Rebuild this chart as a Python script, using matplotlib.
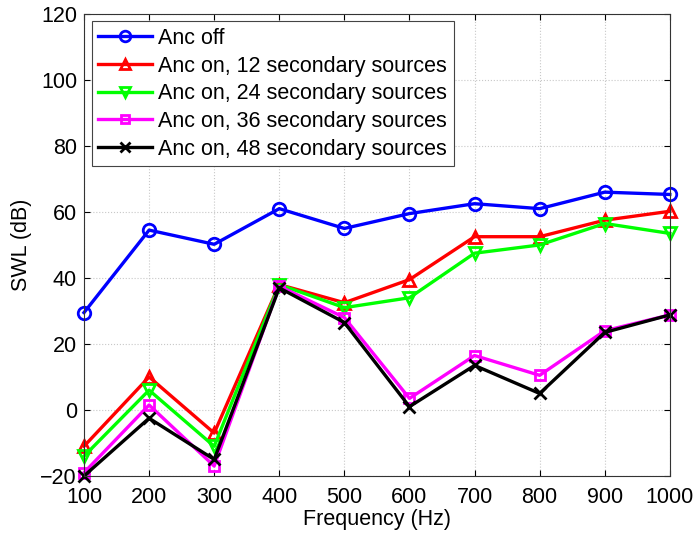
import numpy as np
import matplotlib
matplotlib.use("Agg")
import matplotlib.pyplot as plt

plt.rcParams['font.family'] = ['Liberation Sans', 'DejaVu Sans']

# data
freq = [100, 200, 300, 400, 500, 600, 700, 800, 900, 1000]
anc_off = [29.5, 54.5, 50.2, 61, 55, 59.5, 62.5, 61, 66, 65.3]
anc_12 = [-11, 10, -7, 38, 32.5, 39.5, 52.5, 52.5, 57.5, 60.2]
anc_24 = [-14, 6, -11, 38, 31, 34, 47.5, 50, 56.5, 53.5]
anc_36 = [-19, 1.5, -17, 37.5, 28, 3.5, 16.5, 10.5, 24, 28.8]
anc_48 = [-20, -2.5, -15, 37, 26.5, 1, 13.5, 5, 23.5, 28.8]

labels = ['Anc off',
          'Anc on, 12 secondary sources',
          'Anc on, 24 secondary sources',
          'Anc on, 36 secondary sources',
          'Anc on, 48 secondary sources']

fig = plt.figure(figsize=(6.97, 5.36), dpi=100)
ax = fig.add_axes([0.1205, 0.112, 0.8405, 0.862])

# (series, color, marker)
series = [(anc_off, 'b', 'o'),
          (anc_12, 'r', '^'),
          (anc_24, '#00ff00', 'v'),
          (anc_36, '#ff00ff', 's'),
          (anc_48, 'k', 'x')]

for (vals, c, m), lab in zip(series, labels):
    ms = 7 if m == 's' else 9
    ax.plot(freq, vals, color=c, marker=m, lw=2.4, ms=ms, mew=2,
            mfc='none', label=lab, clip_on=False)

ax.set_xlim(100, 1000)
ax.set_ylim(-20, 120)
ax.set_xticks(freq)
ax.set_yticks(np.arange(-20, 121, 20))
ax.grid(True, ls=':', color='#c8c8c8', lw=0.8)
ax.tick_params(labelsize=15.5, direction='in', top=True, right=True,
               length=4)
ax.tick_params(axis='x', pad=8)
ax.tick_params(axis='y', pad=5)
ax.set_xlabel('Frequency (Hz)', fontsize=15.5, labelpad=1)
ax.set_ylabel('SWL (dB)', fontsize=15.5, labelpad=6)
for s in ax.spines.values():
    s.set_color('#333333')

leg = ax.legend(loc='upper left', fontsize=15.5, fancybox=False,
                edgecolor='#444444', framealpha=1, handlelength=2.5,
                handletextpad=0.3, borderaxespad=0.35, labelspacing=0.31,
                borderpad=0.3, markerscale=0.85)
leg.get_frame().set_linewidth(0.8)

fig.savefig('out.png', dpi=100)
